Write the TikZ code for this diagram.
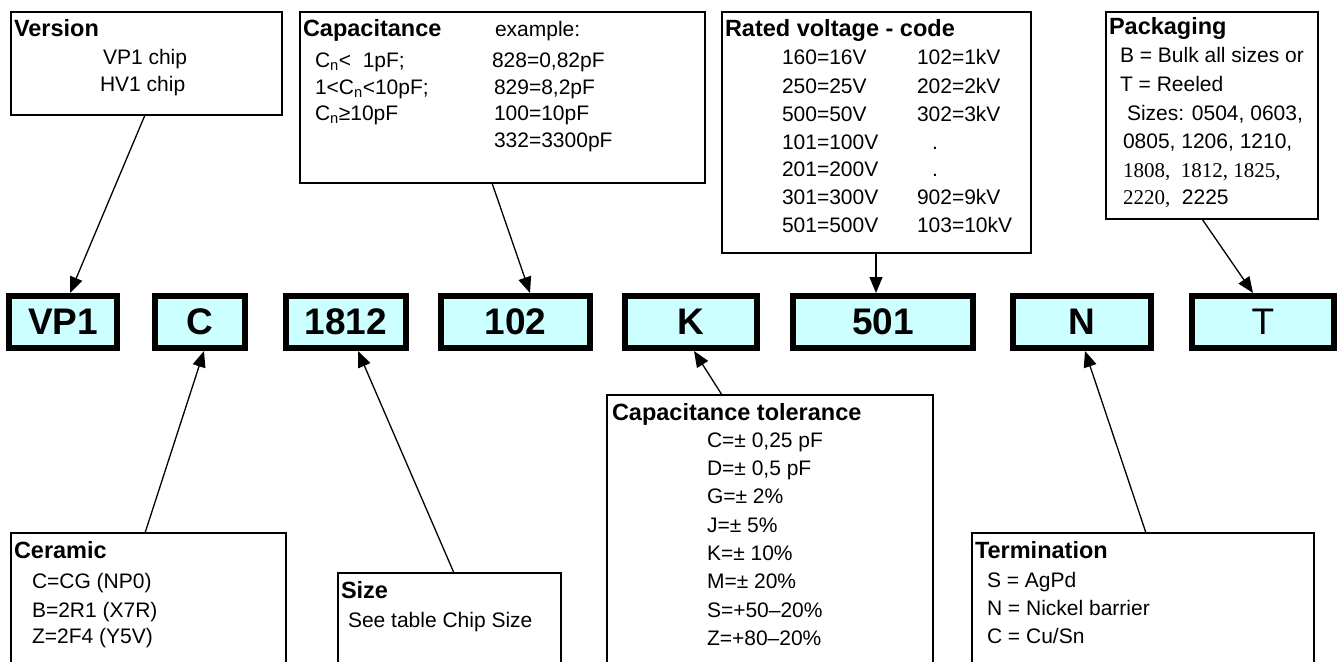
\documentclass[tikz,border=0pt]{standalone}
\usepackage{fontspec}
\setmainfont{Liberation Sans}
\newfontfamily\tnrfont{Liberation Serif}
\usetikzlibrary{arrows.meta,calc}
\definecolor{chipcyan}{HTML}{CCFFFF}
\newcommand\bodyf{\fontsize{21}{25}\selectfont}
\newcommand\titf{\fontsize{23.5}{27}\selectfont\bfseries}
\newcommand\chipf{\fontsize{37}{40}\selectfont\bfseries}
\newcommand\chipr{\fontsize{37}{40}\selectfont}
\tikzset{
  infobox/.style={draw=black, line width=1.6pt, rectangle, anchor=north west, inner sep=0pt, outer sep=0pt, fill=white},
  chipbox/.style={draw=black, fill=chipcyan, line width=6pt, rectangle, inner sep=0pt, minimum height=52pt, font=\chipf},
  txt/.style={anchor=base west, inner sep=0pt, outer sep=0pt, font=\bodyf},
  ttl/.style={anchor=base west, inner sep=0pt, outer sep=0pt, font=\titf},
  arr/.style={line width=1.3pt, -{Triangle[length=16pt,width=13pt]}}
}
\begin{document}
\begin{tikzpicture}[x=1pt,y=-1pt]
\useasboundingbox (0,0) rectangle (1343,661);
\clip (0,0) rectangle (1343,661);
% top info boxes
\node[infobox, minimum width=271pt, minimum height=103pt] (ver) at (11,12) {};
\node[infobox, minimum width=405pt, minimum height=171pt] (cap) at (300,12) {};
\node[infobox, minimum width=309pt, minimum height=241pt] (rv) at (722,12) {};
\node[infobox, minimum width=212pt, minimum height=207pt] (pack) at (1106,12) {};
% bottom info boxes
\node[infobox, minimum width=275pt, minimum height=150pt] (cer) at (11,533) {};
\node[infobox, minimum width=223pt, minimum height=110pt] (size) at (338,573) {};
\node[infobox, minimum width=326pt, minimum height=290pt] (tol) at (607,395) {};
\node[infobox, minimum width=342pt, minimum height=150pt] (term) at (972,533) {};
% chip boxes
\node[chipbox, minimum width=108pt] (vp1) at (63,322) {VP1};
\node[chipbox, minimum width=90pt] (cc) at (200,322) {C};
\node[chipbox, minimum width=120pt] (sz) at (346,322) {1812};
\node[chipbox, minimum width=149pt] (cv) at (515.5,322) {102};
\node[chipbox, minimum width=132pt] (kk) at (691,322) {K};
\node[chipbox, minimum width=180pt] (vv) at (883,322) {501};
\node[chipbox, minimum width=138pt] (nn) at (1082,322) {N};
\node[chipbox, minimum width=142pt, font=\chipr] (tt) at (1263,322) {T};
% Version text
\node[ttl] (vt) at (14,37) {Version};
\node[txt] (v1) at (103,65) {VP1 chip};
\node[txt] (v2) at (100,92) {HV1 chip};
% Capacitance text
\node[ttl] (ct) at (303,37) {Capacitance};
\node[txt] (ce) at (495,37) {example:};
\node[txt] (c1) at (315,67) {C\textsubscript{n}< \ 1pF;};
\node[txt] (c2) at (315,94) {1<C\textsubscript{n}<10pF;};
\node[txt] (c3) at (315,120) {C\textsubscript{n}≥10pF};
\node[txt] (c4) at (492,67) {828=0,82pF};
\node[txt] (c5) at (494,94) {829=8,2pF};
\node[txt] (c6) at (494,120) {100=10pF};
\node[txt] (c7) at (494,147) {332=3300pF};
% Rated voltage text
\node[ttl] (rt) at (725,37) {Rated voltage - code};
\node[txt] (r1) at (782,65) {160=16V};
\node[txt] (r2) at (782,93) {250=25V};
\node[txt] (r3) at (782,121) {500=50V};
\node[txt] (r4) at (782,149) {101=100V};
\node[txt] (r5) at (782,176) {201=200V};
\node[txt] (r6) at (782,204) {301=300V};
\node[txt] (r7) at (782,232) {501=500V};
\node[txt] (s1) at (917,65) {102=1kV};
\node[txt] (s2) at (917,93) {202=2kV};
\node[txt] (s3) at (917,121) {302=3kV};
\node[txt] (s4) at (932,149) {.};
\node[txt] (s5) at (932,176) {.};
\node[txt] (s6) at (917,204) {902=9kV};
\node[txt] (s7) at (917,232) {103=10kV};
% Packaging text
\node[ttl] (pt) at (1109,35) {Packaging};
\node[txt] (p1) at (1120,63) {B = Bulk all sizes or};
\node[txt] (p2) at (1120,92) {T = Reeled};
\node[txt] (p3) at (1127,120) {Sizes: 0504, 0603,};
\node[txt] (p4) at (1123,148) {0805, 1206, 1210,};
\node[txt] (p5) at (1123,177) {\tnrfont 1808, \ 1812, 1825,};
\node[txt] (p6) at (1123,204) {{\tnrfont 2220,} \ 2225};
% Ceramic text
\node[ttl] (et) at (14,558) {Ceramic};
\node[txt] (e1) at (32,588) {C=CG (NP0)};
\node[txt] (e2) at (32,617) {B=2R1 (X7R)};
\node[txt] (e3) at (32,643) {Z=2F4 (Y5V)};
% Size text
\node[ttl] (zt) at (341,598) {Size};
\node[txt] (z1) at (348,627) {See table Chip Size};
% Tolerance text
\node[ttl] (ot) at (612,420) {Capacitance tolerance};
\node[txt] (o1) at (707,447) {C=± 0,25 pF};
\node[txt] (o2) at (707,475) {D=± 0,5 pF};
\node[txt] (o3) at (707,503) {G=± 2\%};
\node[txt] (o4) at (707,532) {J=± 5\%};
\node[txt] (o5) at (707,560) {K=± 10\%};
\node[txt] (o6) at (707,588) {M=± 20\%};
\node[txt] (o7) at (707,617) {S=+50–20\%};
\node[txt] (o8) at (707,645) {Z=+80–20\%};
% Termination text
\node[ttl] (mt) at (975,558) {Termination};
\node[txt] (m1) at (987,587) {S = AgPd};
\node[txt] (m2) at (987,615) {N = Nickel barrier};
\node[txt] (m3) at (987,643) {C = Cu/Sn};
% arrows
\draw[arr] ($(ver.south west)+(134,0)$) -- ($(vp1.north)+(7,0)$);
\draw[arr] ($(cap.south west)+(192,0)$) -- ($(cv.north)+(14.5,0)$);
\draw[arr] ($(rv.south west)+(154,0)$) -- ($(vv.north)+(-7,0)$);
\draw[arr] ($(pack.south west)+(96,0)$) -- ($(tt.north)+(-10,0)$);
\draw[arr] ($(cer.north west)+(134,0)$) -- ($(cc.south)+(4,0)$);
\draw[arr] ($(size.north west)+(116,0)$) -- ($(sz.south)+(12,0)$);
\draw[arr] ($(tol.north west)+(115,0)$) -- ($(kk.south)+(3,0)$);
\draw[arr] ($(term.north west)+(174,0)$) -- ($(nn.south)+(3,0)$);
\end{tikzpicture}
\end{document}
